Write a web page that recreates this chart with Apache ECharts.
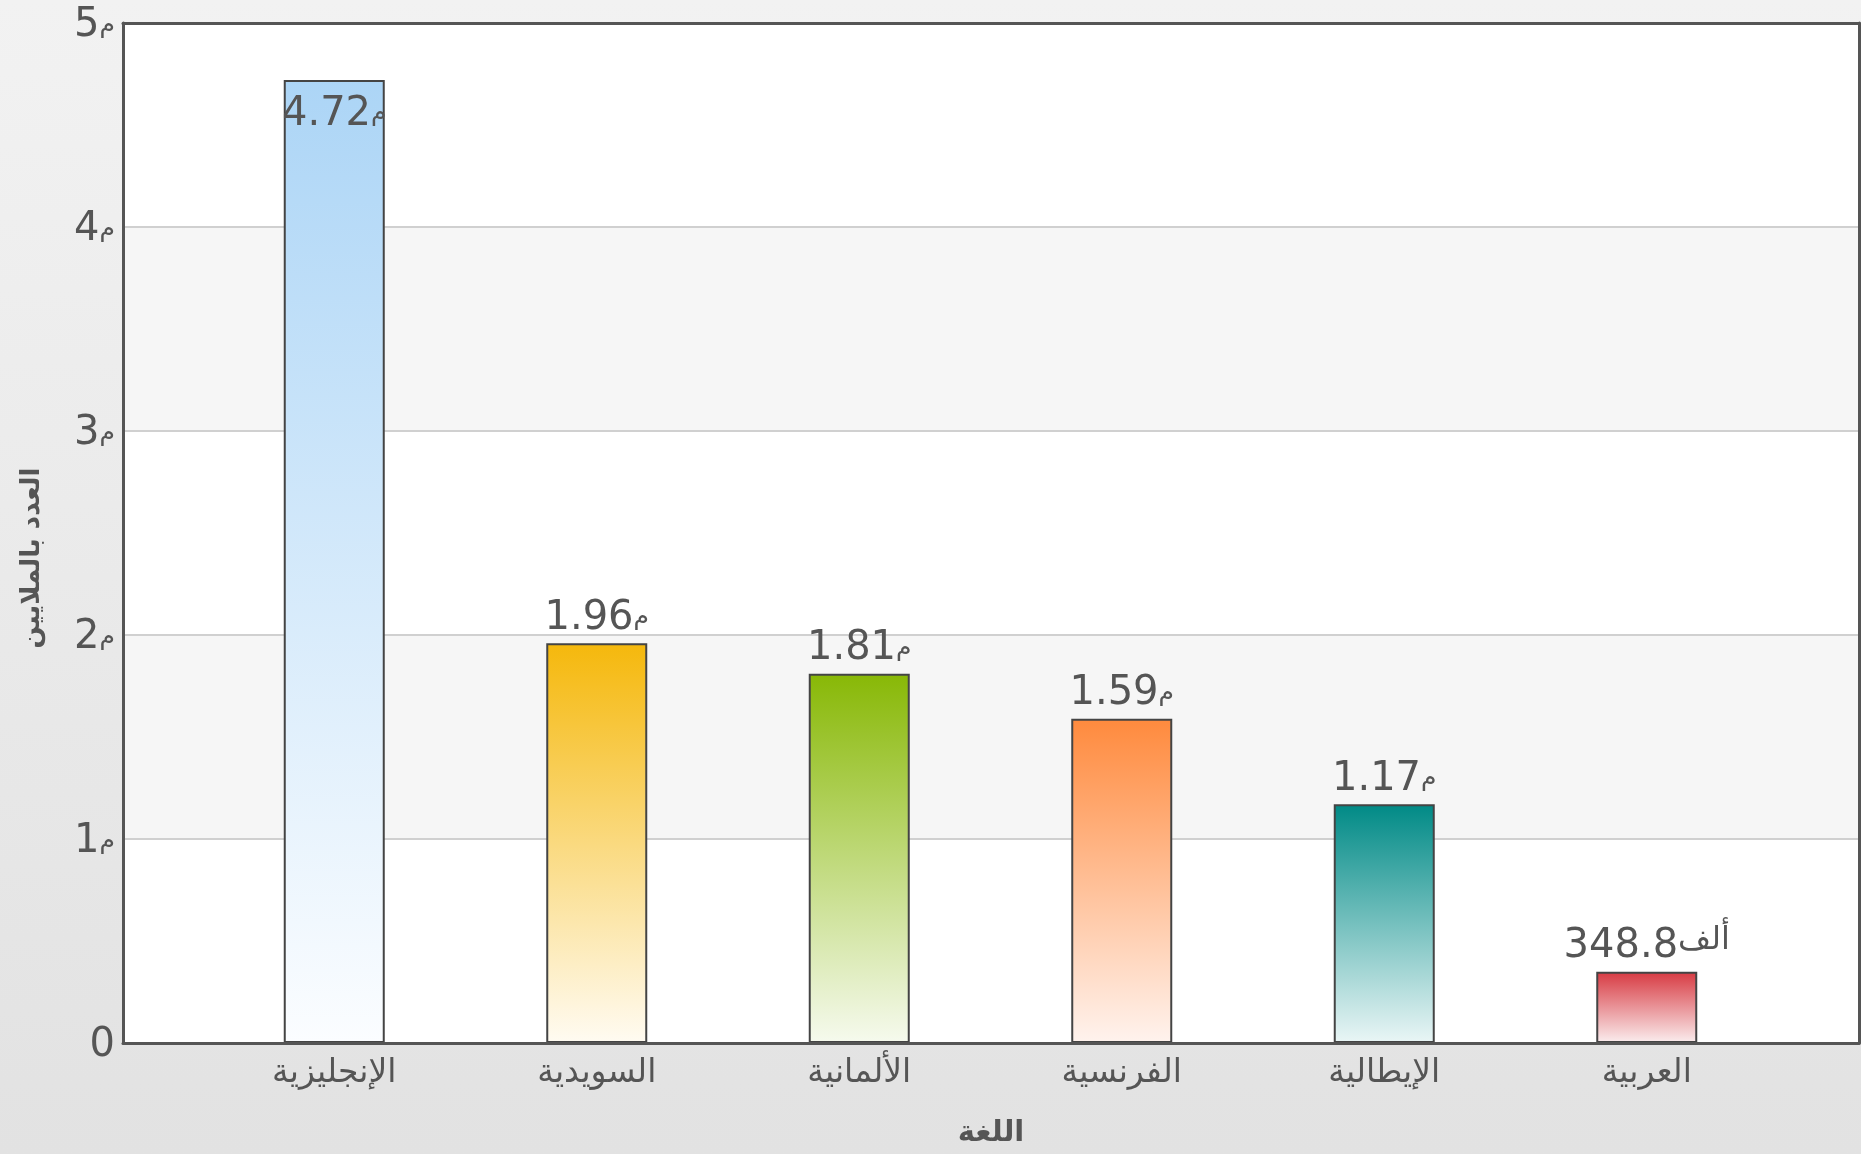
<!DOCTYPE html>
<html>
<head>
<meta charset="utf-8">
<script src="https://cdn.jsdelivr.net/npm/echarts@6/dist/echarts.min.js"></script>
<style>
html,body{margin:0;padding:0;}
#chart{width:1861px;height:1154px;}
</style>
</head>
<body>
<div id="chart"></div>
<script>
// Data
const categories = ['الإنجليزية', 'السويدية', 'الألمانية', 'الفرنسية', 'الإيطالية', 'العربية'];
const values = [4.72, 1.96, 1.81, 1.59, 1.17, 0.3488];
const valueNumbers = ['4.72', '1.96', '1.81', '1.59', '1.17', '348.8'];
const valueUnits = ['م', 'م', 'م', 'م', 'م', 'ألف'];
const topColors = ['#acd5f6', '#f5b80c', '#88b806', '#ff8a3d', '#008a86', '#d73a42'];
const bottomColors = ['#fbfdff', '#fffbf2', '#f6faee', '#fff3ee', '#eaf6f6', '#fbeeef'];
const yTicks = [0, 1, 2, 3, 4, 5];
const yTickNumbers = ['0', '1', '2', '3', '4', '5'];
const yTickUnits = ['', 'م', 'م', 'م', 'م', 'م'];
const xTitle = 'اللغة';
const yTitle = 'العدد بالملايين';

const FONT = 'DejaVu Sans';
const chart = echarts.init(document.getElementById('chart'), null, {renderer: 'canvas'});

const frameLine = {show: true, onZero: false, lineStyle: {color: '#555', width: 3}};

const richNum = {
  n: {fontFamily: FONT, fontSize: 40, color: '#555', verticalAlign: 'bottom', lineHeight: 46},
  m: {fontFamily: FONT, fontSize: 25, color: '#555', verticalAlign: 'bottom', lineHeight: 30, padding: [0, 0, 8, 0]},
  a: {fontFamily: FONT, fontSize: 32, color: '#555', verticalAlign: 'bottom', lineHeight: 36, padding: [0, 0, 10, 0]}
};

const data = values.map((v, i) => {
  const d = {
    value: v,
    itemStyle: {
      color: new echarts.graphic.LinearGradient(0, 0, 0, 1, [
        {offset: 0, color: topColors[i]},
        {offset: 1, color: bottomColors[i]}
      ])
    }
  };
  if (i === 0) {
    d.label = {position: 'insideTop', distance: 8};
  }
  return d;
});

const option = {
  backgroundColor: new echarts.graphic.LinearGradient(0, 0, 0, 1, [
    {offset: 0, color: '#f2f2f2'},
    {offset: 1, color: '#e2e2e2'}
  ]),
  animation: false,
  grid: [
    {left: 123, right: 2, top: 23, bottom: 111, containLabel: false},
    {left: 203, right: 83, top: 23, bottom: 111, containLabel: false}
  ],
  xAxis: [
    {
      gridIndex: 0, type: 'value', min: 0, max: 1, position: 'bottom', z: 10,
      axisLine: frameLine, axisTick: {show: false}, axisLabel: {show: false},
      splitLine: {show: false},
      name: xTitle, nameLocation: 'middle', nameGap: 76,
      nameTextStyle: {fontFamily: FONT, fontSize: 29, fontWeight: 'bold', color: '#555'}
    },
    {
      gridIndex: 0, type: 'value', min: 0, max: 1, position: 'top', z: 10,
      axisLine: frameLine, axisTick: {show: false}, axisLabel: {show: false},
      splitLine: {show: false}
    },
    {
      gridIndex: 1, type: 'category', data: categories,
      axisLine: {show: false}, axisTick: {show: false},
      axisLabel: {fontFamily: FONT, fontSize: 33, color: '#555', margin: 14, interval: 0}
    }
  ],
  yAxis: [
    {
      gridIndex: 0, type: 'value', min: 0, max: 5, interval: 1,
      axisLine: frameLine, axisTick: {show: false},
      axisLabel: {
        margin: 8,
        formatter: v => {
          const i = yTicks.indexOf(v);
          return '{n|' + yTickNumbers[i] + '}' + (yTickUnits[i] ? '{m|' + yTickUnits[i] + '}' : '');
        },
        rich: richNum
      },
      splitLine: {show: true, lineStyle: {color: '#d0d0d0', width: 2}},
      splitArea: {show: true, areaStyle: {color: ['#ffffff', '#f6f6f6']}},
      name: yTitle, nameLocation: 'middle', nameGap: 78, nameRotate: 90,
      nameTextStyle: {fontFamily: FONT, fontSize: 26, fontWeight: 'bold', color: '#555', padding: [0, 50, 0, 0]}
    },
    {
      gridIndex: 0, type: 'value', min: 0, max: 5, position: 'right', z: 10,
      axisLine: frameLine, axisTick: {show: false}, axisLabel: {show: false},
      splitLine: {show: false}
    },
    {
      gridIndex: 1, type: 'value', min: 0, max: 5, interval: 1, show: false
    }
  ],
  series: [
    {
      type: 'bar',
      xAxisIndex: 2, yAxisIndex: 2,
      barWidth: 101,
      data: data,
      z: 3,
      itemStyle: {borderColor: '#444', borderWidth: 2},
      label: {
        show: true, position: 'top', distance: 5,
        formatter: p => '{n|' + valueNumbers[p.dataIndex] + '}' +
          (valueUnits[p.dataIndex] === 'م' ? '{m|' : '{a|') + valueUnits[p.dataIndex] + '}',
        rich: richNum
      }
    }
  ]
};
chart.setOption(option);
</script>
</body>
</html>
